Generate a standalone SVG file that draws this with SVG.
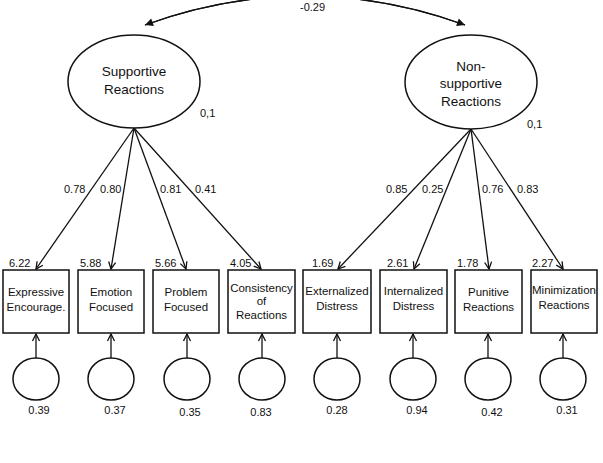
<svg xmlns="http://www.w3.org/2000/svg" width="603" height="463" viewBox="0 0 603 463">
<style>
text{font-family:"Liberation Sans",Arial,sans-serif;fill:#111}
.lat{font-size:13.5px;text-anchor:middle}
.box{font-size:11.5px;text-anchor:middle}
.num{font-size:11px}
.err{font-size:11px;text-anchor:middle}
.shape{fill:#fff;stroke:#111;stroke-width:1.5}
.con{fill:none;stroke:#111;stroke-width:1.3}
</style>
<defs>
<marker id="open" viewBox="-9 -5 10 10" refX="0" refY="0" markerWidth="10" markerHeight="10" markerUnits="userSpaceOnUse" orient="auto">
<path d="M-7,-3.5 L0,0 L-7,3.5" fill="none" stroke="#111" stroke-width="1.3"/>
</marker>
<marker id="solid" viewBox="-9 -5 10 10" refX="0" refY="0" markerWidth="10" markerHeight="10" markerUnits="userSpaceOnUse" orient="auto">
<path d="M-8,-4 L0,0 L-8,4 Z" fill="#111"/>
</marker>
</defs>
<rect width="603" height="463" fill="#fff"/>
<g id="connectors">
<path class="con" d="M465,25 Q305,-33 145,25" marker-end="url(#solid)"/>
<path class="con" d="M145,25 Q305,-33 465,25" marker-end="url(#solid)"/>
<line class="con" x1="134" y1="128" x2="36" y2="269" marker-end="url(#open)"/>
<line class="con" x1="134" y1="128" x2="111" y2="269" marker-end="url(#open)"/>
<line class="con" x1="134" y1="128" x2="186" y2="269" marker-end="url(#open)"/>
<line class="con" x1="134" y1="128" x2="261" y2="269" marker-end="url(#open)"/>
<line class="con" x1="471" y1="129" x2="338" y2="269" marker-end="url(#open)"/>
<line class="con" x1="471" y1="129" x2="414" y2="269" marker-end="url(#open)"/>
<line class="con" x1="471" y1="129" x2="489" y2="269" marker-end="url(#open)"/>
<line class="con" x1="471" y1="129" x2="563" y2="269" marker-end="url(#open)"/>
<line class="con" x1="36" y1="358" x2="36" y2="334" marker-end="url(#open)"/>
<line class="con" x1="111" y1="358" x2="111" y2="334" marker-end="url(#open)"/>
<line class="con" x1="187" y1="358" x2="187" y2="334" marker-end="url(#open)"/>
<line class="con" x1="262" y1="358" x2="262" y2="334" marker-end="url(#open)"/>
<line class="con" x1="337" y1="358" x2="337" y2="334" marker-end="url(#open)"/>
<line class="con" x1="413" y1="358" x2="413" y2="334" marker-end="url(#open)"/>
<line class="con" x1="488" y1="358" x2="488" y2="334" marker-end="url(#open)"/>
<line class="con" x1="563" y1="358" x2="563" y2="334" marker-end="url(#open)"/>
</g>
<g id="labels">
<text class="num" x="300" y="11">-0.29</text>
<text class="num" x="200" y="117">0,1</text>
<text class="num" x="527" y="128">0,1</text>
<text class="num" x="64" y="193">0.78</text>
<text class="num" x="100" y="193">0.80</text>
<text class="num" x="160" y="193">0.81</text>
<text class="num" x="195" y="193">0.41</text>
<text class="num" x="386" y="193">0.85</text>
<text class="num" x="422" y="193">0.25</text>
<text class="num" x="482" y="193">0.76</text>
<text class="num" x="517" y="193">0.83</text>
<text class="num" x="9" y="267">6.22</text>
<text class="num" x="80" y="267">5.88</text>
<text class="num" x="155" y="267">5.66</text>
<text class="num" x="230" y="267">4.05</text>
<text class="num" x="312" y="267">1.69</text>
<text class="num" x="387" y="267">2.61</text>
<text class="num" x="457" y="267">1.78</text>
<text class="num" x="532" y="267">2.27</text>
</g>
<g id="supportive">
<ellipse class="shape" cx="134" cy="81.5" rx="66" ry="46.5"/>
<text class="lat" x="134" y="76">Supportive</text>
<text class="lat" x="134" y="94">Reactions</text>
</g>
<g id="nonsupportive">
<ellipse class="shape" cx="471" cy="82" rx="66" ry="47"/>
<text class="lat" x="471" y="71">Non-</text>
<text class="lat" x="471" y="88">supportive</text>
<text class="lat" x="471" y="106">Reactions</text>
</g>
<g id="expressive">
<rect class="shape" x="3" y="270" width="66" height="63"/>
<text class="box" x="36" y="296">Expressive</text>
<text class="box" x="36" y="311">Encourage.</text>
</g>
<g id="emotion">
<rect class="shape" x="78" y="270" width="66" height="63"/>
<text class="box" x="111" y="296">Emotion</text>
<text class="box" x="111" y="311">Focused</text>
</g>
<g id="problem">
<rect class="shape" x="153" y="270" width="66" height="63"/>
<text class="box" x="186" y="296">Problem</text>
<text class="box" x="186" y="311">Focused</text>
</g>
<g id="consistency">
<rect class="shape" x="228" y="270" width="67" height="63"/>
<text class="box" x="261.5" y="292">Consistency</text>
<text class="box" x="261.5" y="305">of</text>
<text class="box" x="261.5" y="319">Reactions</text>
</g>
<g id="externalized">
<rect class="shape" x="303" y="270" width="68" height="63"/>
<text class="box" x="337" y="295">Externalized</text>
<text class="box" x="337" y="310">Distress</text>
</g>
<g id="internalized">
<rect class="shape" x="380" y="270" width="67" height="63"/>
<text class="box" x="413.5" y="295">Internalized</text>
<text class="box" x="413.5" y="310">Distress</text>
</g>
<g id="punitive">
<rect class="shape" x="455" y="270" width="67" height="63"/>
<text class="box" x="488.5" y="296">Punitive</text>
<text class="box" x="488.5" y="311">Reactions</text>
</g>
<g id="minimization">
<rect class="shape" x="531" y="270" width="66" height="63"/>
<text class="box" x="564" y="294">Minimization</text>
<text class="box" x="564" y="309">Reactions</text>
</g>
<g id="e1"><ellipse class="shape" cx="36" cy="379" rx="23" ry="21"/><text class="err" x="39" y="414">0.39</text></g>
<g id="e2"><ellipse class="shape" cx="111" cy="379" rx="23" ry="21"/><text class="err" x="115" y="414">0.37</text></g>
<g id="e3"><ellipse class="shape" cx="187" cy="379" rx="23" ry="21"/><text class="err" x="190" y="415.5">0.35</text></g>
<g id="e4"><ellipse class="shape" cx="262" cy="379" rx="23" ry="21"/><text class="err" x="261" y="415.5">0.83</text></g>
<g id="e5"><ellipse class="shape" cx="337" cy="379" rx="23" ry="21"/><text class="err" x="337" y="414">0.28</text></g>
<g id="e6"><ellipse class="shape" cx="413" cy="379" rx="23" ry="21"/><text class="err" x="417" y="414">0.94</text></g>
<g id="e7"><ellipse class="shape" cx="488" cy="379" rx="23" ry="21"/><text class="err" x="492" y="415.5">0.42</text></g>
<g id="e8"><ellipse class="shape" cx="563" cy="379" rx="23" ry="21"/><text class="err" x="567" y="414">0.31</text></g>
</svg>
